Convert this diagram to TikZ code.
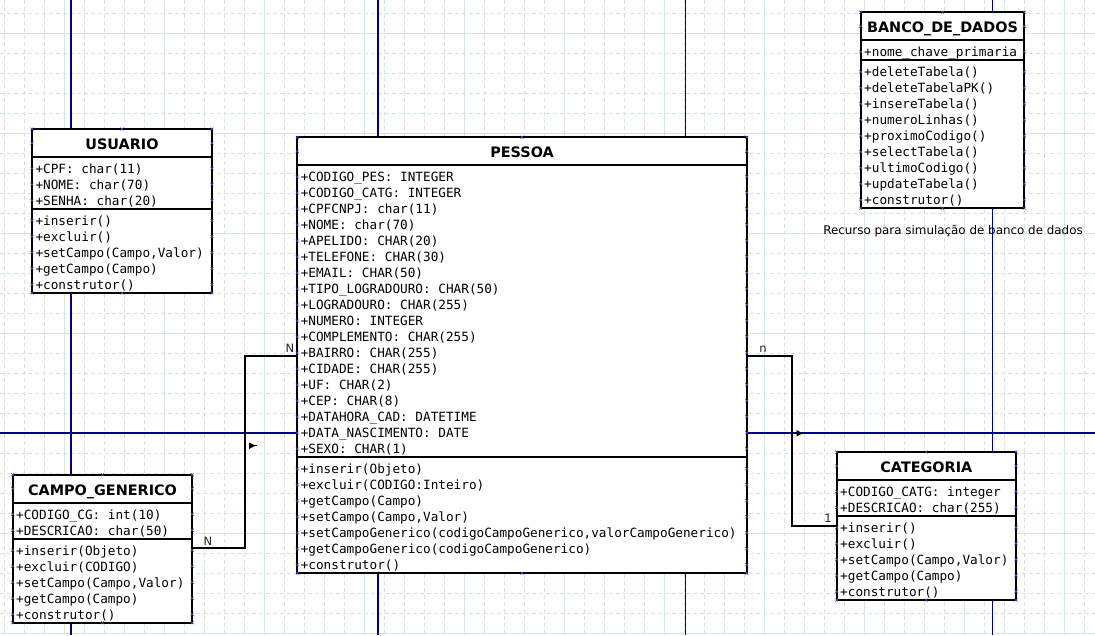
\documentclass[tikz,border=0pt]{standalone}
\usepackage{fontspec}
\setmainfont{DejaVu Sans}
\setsansfont{DejaVu Sans}
\setmonofont{DejaVu Sans Mono}
\definecolor{gridc}{RGB}{214,228,224}
\definecolor{pagec}{RGB}{0,0,128}
\definecolor{markc}{RGB}{70,70,210}
\tikzset{
 gridmajor/.style={draw=gridc, line width=0.9},
 gridminor/.style={draw=gridc, line width=0.9, dash pattern=on 4pt off 3pt},
 pageline/.style={draw=pagec, line width=1.1},
 classframe/.style={draw=black, fill=white, line width=2, rectangle, inner sep=0, outer sep=0},
 sepline/.style={draw=black, line width=2},
 classtitle/.style={font=\sffamily\bfseries\fontsize{14.4}{16}\selectfont, inner sep=0, anchor=base},
 classrow/.style={font=\ttfamily\fontsize{12.7}{16}\selectfont, inner sep=0, anchor=base west},
 portmark/.style={draw=markc, line width=0.5},
 assoc/.style={draw=black, line width=2},
 mult/.style={font=\sffamily\fontsize{11.5}{14}\selectfont, inner sep=0, text=black!85},
 note/.style={font=\sffamily\fontsize{11.9}{15}\selectfont, inner sep=0},
}
\newcommand{\pmark}[2]{\draw[portmark] ({#1-1.5},{#2-1.5}) -- ({#1+1.5},{#2+1.5}) ({#1-1.5},{#2+1.5}) -- ({#1+1.5},{#2-1.5});}
\newcommand{\umlclass}[9]{%
 \pgfmathsetmacro\uH{28+16*#6+4+16*#7+4}%
 \pgfmathsetmacro\uA{#3+28}%
 \pgfmathsetmacro\uB{#3+28+16*#6+4}%
 \pgfmathsetmacro\uR{#2+#4}%
 \pgfmathsetmacro\uC{#2+#4/2}%
 \pgfmathsetmacro\uBot{#3+\uH}%
 \node[classframe, minimum width=#4pt, minimum height=\uH pt, anchor=north west] (#1) at (#2,#3) {};
 \draw[sepline] (#2,\uA) -- (\uR,\uA);
 \draw[sepline] (#2,\uB) -- (\uR,\uB);
 \node[classtitle] (#1-t) at (\uC,{#3+20.3}) {#5};
 \foreach \rowtxt [count=\i] in {#8} {\node[classrow] (#1-a\i) at ({#2+3.3},{\uA+11.5+16*(\i-1)+5}) {\rowtxt};
   \pmark{#2}{\uA+11.5+16*(\i-1)} \pmark{\uR}{\uA+11.5+16*(\i-1)}}
 \foreach \rowtxt [count=\i] in {#9} {\node[classrow] (#1-m\i) at ({#2+3.3},{\uB+11.5+16*(\i-1)+5}) {\rowtxt};
   \pmark{#2}{\uB+11.5+16*(\i-1)} \pmark{\uR}{\uB+11.5+16*(\i-1)}}
 \pmark{#2}{#3} \pmark{\uR}{#3} \pmark{#2}{\uBot} \pmark{\uR}{\uBot}
 \pmark{\uC}{#3} \pmark{\uC}{\uBot} \pmark{#2}{#3+14} \pmark{\uR}{#3+14}
}
\begin{document}
\begin{tikzpicture}[x=1pt,y=-1pt]
\fill[white] (0,0) rectangle (1095,635);
\useasboundingbox (0,0) rectangle (1095,635);
% grid
\foreach \gx in {4,24,...,1094} \draw[gridminor] (\gx,0) -- (\gx,635);
\foreach \gy in {13,33,...,633} \draw[gridminor] (0,\gy) -- (1095,\gy);
\foreach \gx in {64,164,...,1064} \draw[gridmajor] (\gx,0) -- (\gx,635);
\foreach \gy in {33,133,...,633} \draw[gridmajor] (0,\gy) -- (1095,\gy);
% page boundaries
\foreach \gx in {71,378,685.5,992.5} \draw[pageline] (\gx,0) -- (\gx,635);
\draw[pageline] (0,433) -- (1095,433);
% classes
\umlclass{usuario}{32}{129}{180}{USUARIO}{3}{5}{{+CPF: char(11)},{+NOME: char(70)},{+SENHA: char(20)}}{{+inserir()},{+excluir()},{+setCampo(Campo,Valor)},{+getCampo(Campo)},{+construtor()}}
\umlclass{pessoa}{297.3}{137.3}{449.4}{PESSOA}{18}{7}{{+CODIGO\_PES: INTEGER},{+CODIGO\_CATG: INTEGER},{+CPFCNPJ: char(11)},{+NOME: char(70)},{+APELIDO: CHAR(20)},{+TELEFONE: CHAR(30)},{+EMAIL: CHAR(50)},{+TIPO\_LOGRADOURO: CHAR(50)},{+LOGRADOURO: CHAR(255)},{+NUMERO: INTEGER},{+COMPLEMENTO: CHAR(255)},{+BAIRRO: CHAR(255)},{+CIDADE: CHAR(255)},{+UF: CHAR(2)},{+CEP: CHAR(8)},{+DATAHORA\_CAD: DATETIME},{+DATA\_NASCIMENTO: DATE},{+SEXO: CHAR(1)}}{{+inserir(Objeto)},{+excluir(CODIGO:Inteiro)},{+getCampo(Campo)},{+setCampo(Campo,Valor)},{+setCampoGenerico(codigoCampoGenerico,valorCampoGenerico)},{+getCampoGenerico(codigoCampoGenerico)},{+construtor()}}
\umlclass{banco}{860.7}{12.3}{163.6}{BANCO\_DE\_DADOS}{1}{9}{{+nome\_chave\_primaria}}{{+deleteTabela()},{+deleteTabelaPK()},{+insereTabela()},{+numeroLinhas()},{+proximoCodigo()},{+selectTabela()},{+ultimoCodigo()},{+updateTabela()},{+construtor()}}
\umlclass{campo}{12.7}{474.7}{179.6}{CAMPO\_GENERICO}{2}{5}{{+CODIGO\_CG: int(10)},{+DESCRICAO: char(50)}}{{+inserir(Objeto)},{+excluir(CODIGO)},{+setCampo(Campo,Valor)},{+getCampo(Campo)},{+construtor()}}
\umlclass{categoria}{836.7}{452}{179.3}{CATEGORIA}{2}{5}{{+CODIGO\_CATG: integer},{+DESCRICAO: char(255)}}{{+inserir()},{+excluir()},{+setCampo(Campo,Valor)},{+getCampo(Campo)},{+construtor()}}
\node[note] (nota) at (953,231) {Recurso para simulação de banco de dados};
% associations
\coordinate (j1) at (245,548);
\coordinate (j2) at (245,356);
\coordinate (j3) at (792,356);
\coordinate (j4) at (792,526);
\draw[assoc] (campo.east |- j1) -- (j1) -- (j2) -- (pessoa.west |- j2);
\draw[assoc] (pessoa.east |- j3) -- (j3) -- (j4) -- (categoria.west |- j4);
\node[mult] (m1) at (208,541) {N};
\node[mult] (m2) at (290,348.5) {N};
\node[mult] (m3) at (763,349) {n};
\node[mult] (m4) at (828,518.5) {1};
% reading direction arrows
\fill (249,442.5) -- (255.5,445.7) -- (249,449) -- cycle;
\draw[line width=1] (254,445.7) -- (257,445.7);
\fill (796.5,430) -- (802.5,433.3) -- (796.5,436.6) -- cycle;
\end{tikzpicture}
\end{document}
